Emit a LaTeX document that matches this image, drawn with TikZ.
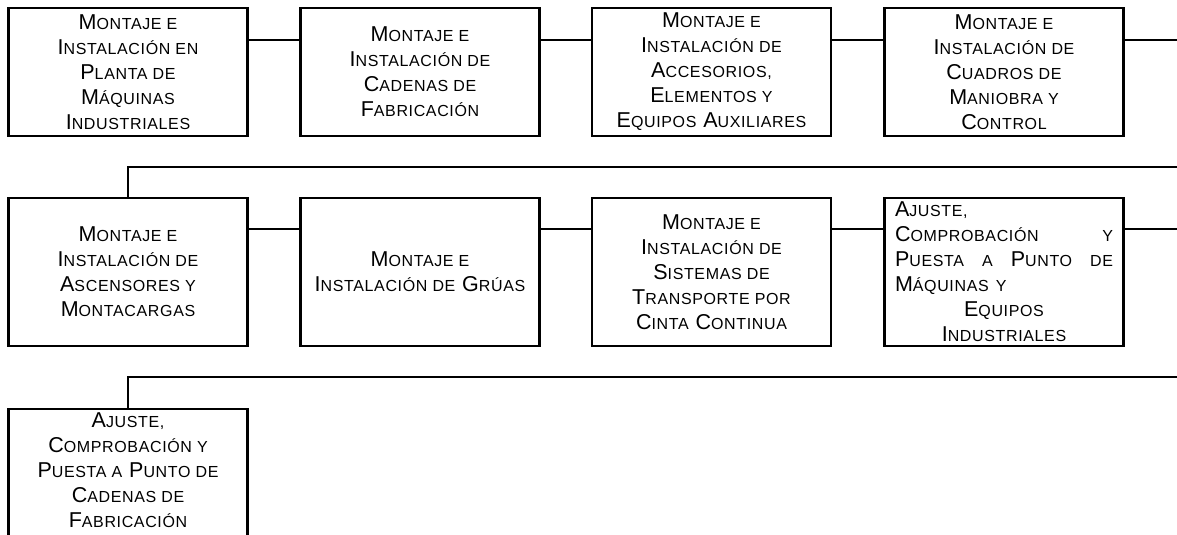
\documentclass[tikz,border=0pt]{standalone}
\usepackage{fontspec}
\setmainfont{Liberation Sans}[LetterSpace=4]
\usetikzlibrary{calc}
\newcommand\sm[1]{{\fontsize{16pt}{25pt}\selectfont #1}}
\newcommand\jline[1]{\leavevmode\hbox to 218pt{#1}}
\begin{document}
\begin{tikzpicture}[x=1pt,y=-1pt,
 box/.style={draw,line width=2.8pt,minimum width=239pt,inner sep=0pt,align=center,font=\fontsize{21.5pt}{25pt}\selectfont},
 link/.style={line width=2.8pt},
 thinlink/.style={line width=1.3pt}]
\useasboundingbox (0,0) rectangle (1177,535);
\clip (0,0) rectangle (1177,535);
% row 1
\node[box,minimum height=128pt] (b1) at (128,72) {M\sm{ONTAJE E}\\I\sm{NSTALACIÓN EN}\\P\sm{LANTA DE}\\M\sm{ÁQUINAS}\\I\sm{NDUSTRIALES}};
\node[box,minimum height=128pt] (b2) at (420,72) {M\sm{ONTAJE E}\\I\sm{NSTALACIÓN DE}\\C\sm{ADENAS DE}\\F\sm{ABRICACIÓN}};
\node[box,minimum height=128pt] (b3) at (711.5,72) {M\sm{ONTAJE E}\\I\sm{NSTALACIÓN DE}\\A\sm{CCESORIOS,}\\E\sm{LEMENTOS Y}\\E\sm{QUIPOS} A\sm{UXILIARES}};
\node[box,minimum height=128pt] (b4) at (1004,72) {M\sm{ONTAJE E}\\I\sm{NSTALACIÓN DE}\\C\sm{UADROS DE}\\M\sm{ANIOBRA Y}\\C\sm{ONTROL}};
\coordinate (e1) at (1177,40);
% row 2
\node[box,minimum height=148pt] (b5) at (128,272) {M\sm{ONTAJE E}\\I\sm{NSTALACIÓN DE}\\A\sm{SCENSORES Y}\\M\sm{ONTACARGAS}};
\node[box,minimum height=148pt] (b6) at (420,272) {M\sm{ONTAJE E}\\I\sm{NSTALACIÓN DE} G\sm{RÚAS}};
\node[box,minimum height=148pt] (b7) at (711.5,272) {M\sm{ONTAJE E}\\I\sm{NSTALACIÓN DE}\\S\sm{ISTEMAS DE}\\T\sm{RANSPORTE POR}\\C\sm{INTA} C\sm{ONTINUA}};
\node[box,minimum height=148pt,text width=218pt,align=left] (b8) at (1004,272) {%
\jline{A\sm{JUSTE,}\hfill}\\
\jline{C\sm{OMPROBACIÓN}\hfill\sm{Y}}\\
\jline{P\sm{UESTA}\hfill\sm{A}\hfill P\sm{UNTO}\hfill\sm{DE}}\\
\jline{M\sm{ÁQUINAS Y}\hfill}\\
\jline{\hfil E\sm{QUIPOS}\hfil}\\
\jline{\hfil I\sm{NDUSTRIALES}\hfil}};
\coordinate (e2) at (1177,229);
\coordinate (t2) at (1177,167);
% row 3
\node[box,minimum height=132pt,text depth=10pt] (b9) at (128,475) {A\sm{JUSTE,}\\C\sm{OMPROBACIÓN Y}\\P\sm{UESTA A} P\sm{UNTO DE}\\C\sm{ADENAS DE}\\F\sm{ABRICACIÓN}};
\coordinate (t3) at (1177,377);
% connectors
\draw[link] (b1.east |- e1) -- (b2.west |- e1);
\draw[link] (b2.east |- e1) -- (b3.west |- e1);
\draw[link] (b3.east |- e1) -- (b4.west |- e1);
\draw[link] (b4.east |- e1) -- (e1);
\draw[thinlink] (t2) -- (b5.north |- t2) -- (b5.north);
\draw[link] (b5.east |- e2) -- (b6.west |- e2);
\draw[link] (b6.east |- e2) -- (b7.west |- e2);
\draw[link] (b7.east |- e2) -- (b8.west |- e2);
\draw[link] (b8.east |- e2) -- (e2);
\draw[link] (t3) -- (b9.north |- t3) -- (b9.north);
\end{tikzpicture}
\end{document}
